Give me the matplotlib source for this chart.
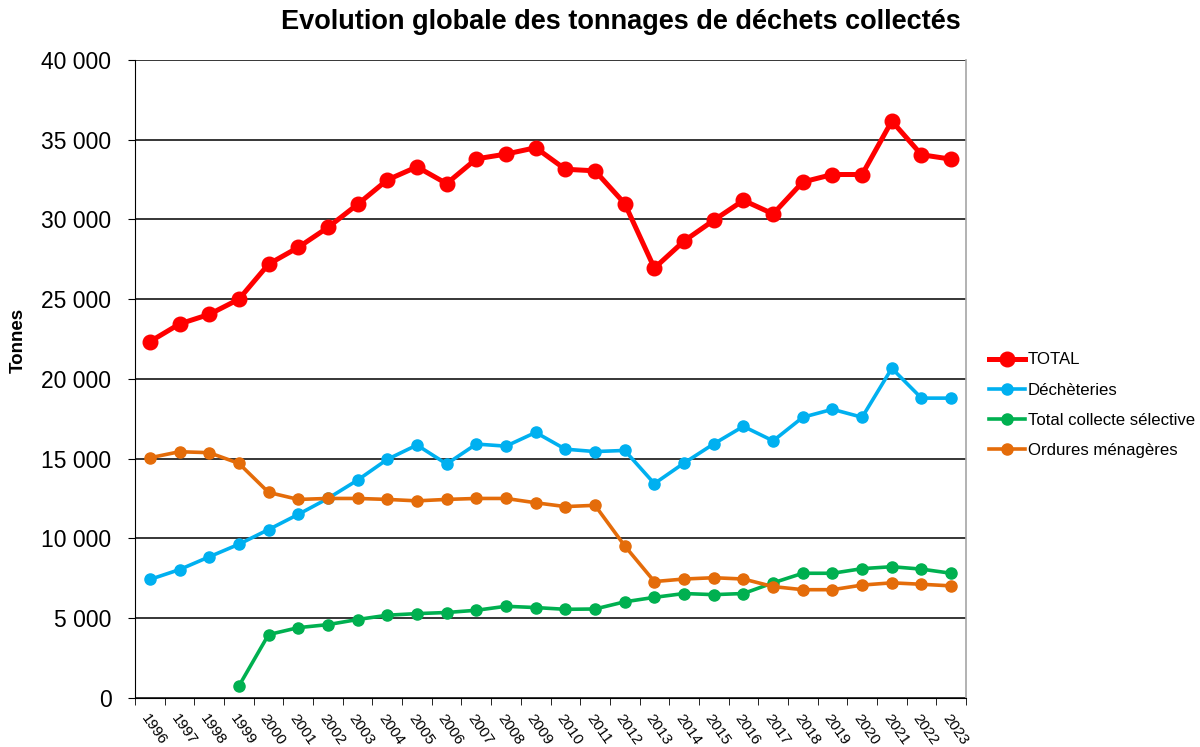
import matplotlib
matplotlib.use("Agg")
import matplotlib.pyplot as plt
import numpy as np
from matplotlib.ticker import FuncFormatter, FixedLocator
from matplotlib.transforms import ScaledTranslation

plt.rcParams['font.family'] = ['Liberation Sans', 'DejaVu Sans']

years = [str(y) for y in range(1996, 2024)]
total = [22340, 23450, 24050, 25000, 27200, 28250, 29500, 30950, 32480, 33300,
         32250, 33800, 34100, 34500, 33150, 33050, 31000, 26950, 28650, 29950,
         31200, 30350, 32350, 32820, 32820, 36170, 34060, 33780]
decheteries = [7430, 8050, 8850, 9640, 10560, 11510, 12510, 13660, 14960, 15860,
               14670, 15920, 15790, 16650, 15600, 15450, 15520, 13440, 14730, 15930,
               17030, 16120, 17600, 18100, 17600, 20670, 18800, 18800]
collecte_sel = [None, None, None, 750, 3975, 4410, 4600, 4920, 5190, 5290,
                5360, 5500, 5750, 5670, 5560, 5580, 6030, 6310, 6550, 6480,
                6550, 7220, 7820, 7820, 8110, 8230, 8080, 7820]
ordures = [15060, 15440, 15380, 14710, 12890, 12450, 12510, 12510, 12450, 12360,
           12450, 12510, 12510, 12240, 12000, 12080, 9540, 7300, 7460, 7540,
           7460, 6985, 6790, 6790, 7080, 7220, 7130, 7030]

series_names = ["TOTAL", "Déchèteries", "Total collecte sélective", "Ordures ménagères"]
colors = ["#FF0000", "#00B0F0", "#00B050", "#E46C0A"]

fig = plt.figure(figsize=(12, 7.47), dpi=100)
ax = fig.add_axes([0.1125, 0.0656, 0.6925, 0.8541])

x = np.arange(len(years))

def arr(v):
    return np.array([np.nan if a is None else a for a in v], dtype=float)

ax.plot(x, arr(total), color=colors[0], lw=3.6, marker='o', ms=10.5, label=series_names[0], zorder=5)
ax.plot(x, arr(decheteries), color=colors[1], lw=2.6, marker='o', ms=8, label=series_names[1], zorder=4)
ax.plot(x, arr(collecte_sel), color=colors[2], lw=2.6, marker='o', ms=8, label=series_names[2], zorder=4)
ax.plot(x, arr(ordures), color=colors[3], lw=2.6, marker='o', ms=8, label=series_names[3], zorder=4)

ax.set_xlim(-0.5, len(years) - 0.5)
ax.set_ylim(0, 40000)
ax.set_yticks(np.arange(0, 40001, 5000))
ax.yaxis.set_major_formatter(FuncFormatter(lambda v, p: f"{int(v):,}".replace(",", " ")))
ax.grid(axis='y', color='black', lw=1.1)
ax.set_axisbelow(True)

ax.set_xticks(x)
ax.set_xticklabels(years, rotation=-55, ha='left', va='top', rotation_mode='anchor', fontsize=11)
shift = ScaledTranslation(5 / 100, 0, fig.dpi_scale_trans)
for lab in ax.get_xticklabels():
    lab.set_transform(lab.get_transform() + shift)
ax.xaxis.set_minor_locator(FixedLocator(np.arange(-0.5, len(years), 1.0)))
ax.tick_params(axis='x', which='major', length=0, pad=10)
ax.tick_params(axis='x', which='minor', length=5, direction='out', color='black')
ax.tick_params(axis='y', labelsize=16.5, length=5, direction='out', pad=12)

ax.spines['top'].set_visible(False)
ax.spines['right'].set_color('#A6A6A6')
ax.spines['right'].set_linewidth(1.2)
ax.spines['left'].set_color('black')
ax.spines['bottom'].set_color('black')

fig.text(18 / 1200, 1 - 340 / 747, "Tonnes", fontsize=13.5, fontweight='bold',
         rotation=90, ha='center', va='center')

fig.text(0.517, 1 - 22 / 747, "Evolution globale des tonnages de déchets collectés",
         fontsize=19.5, fontweight='bold', ha='center', va='center')

leg = ax.legend(loc='center left', bbox_to_anchor=(1.02, 0.459), frameon=False, fontsize=12.1,
                handlelength=2.15, handletextpad=0.15, labelspacing=0.9, borderaxespad=0)

fig.savefig("out.png", dpi=100)
